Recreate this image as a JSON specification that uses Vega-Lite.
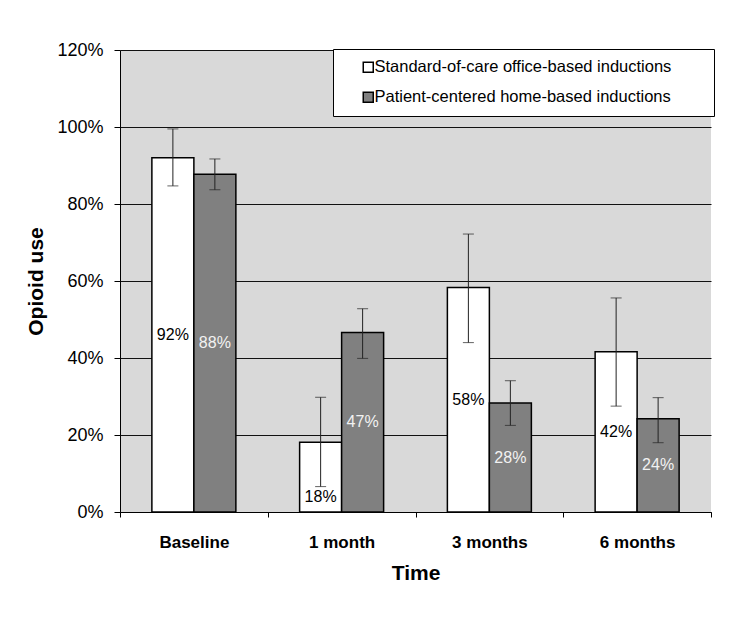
{
  "$schema": "https://vega.github.io/schema/vega-lite/v6.json",
  "width": 591,
  "height": 462,
  "autosize": {"type": "none"},
  "padding": {"left": 120, "top": 50, "right": 33, "bottom": 122},
  "background": "white",
  "config": {
    "view": {"stroke": null, "fill": "#d9d9d9"},
    "font": "Liberation Sans"
  },
  "data": {
    "values": [
      {"time": "Baseline", "group": "Standard-of-care office-based inductions", "value": 0.92, "lo": 0.847, "hi": 0.995},
      {"time": "Baseline", "group": "Patient-centered home-based inductions", "value": 0.877, "lo": 0.837, "hi": 0.917},
      {"time": "1 month", "group": "Standard-of-care office-based inductions", "value": 0.181, "lo": 0.066, "hi": 0.298},
      {"time": "1 month", "group": "Patient-centered home-based inductions", "value": 0.466, "lo": 0.399, "hi": 0.528},
      {"time": "3 months", "group": "Standard-of-care office-based inductions", "value": 0.583, "lo": 0.44, "hi": 0.722},
      {"time": "3 months", "group": "Patient-centered home-based inductions", "value": 0.283, "lo": 0.225, "hi": 0.341},
      {"time": "6 months", "group": "Standard-of-care office-based inductions", "value": 0.416, "lo": 0.275, "hi": 0.556},
      {"time": "6 months", "group": "Patient-centered home-based inductions", "value": 0.242, "lo": 0.18, "hi": 0.297}
    ]
  },
  "encoding": {
    "x": {
      "field": "time",
      "type": "nominal",
      "sort": ["Baseline", "1 month", "3 months", "6 months"],
      "scale": {"paddingInner": 0, "paddingOuter": 0},
      "title": "Time",
      "axis": {
        "labelAngle": 0,
        "labelFontSize": 17,
        "labelFontWeight": "bold",
        "labelColor": "black",
        "labelPadding": 17,
        "tickBand": "extent",
        "tickSize": 5,
        "tickColor": "black",
        "domainColor": "black",
        "titleFontSize": 21,
        "titleFontWeight": "bold",
        "titleColor": "black",
        "titlePadding": 12
      }
    },
    "xOffset": {
      "field": "group",
      "type": "nominal",
      "sort": ["Standard-of-care office-based inductions", "Patient-centered home-based inductions"],
      "scale": {"paddingInner": 0, "paddingOuter": 0.759}
    }
  },
  "layer": [
    {
      "mark": {"type": "bar", "stroke": "black", "strokeWidth": 1.5},
      "encoding": {
        "y": {
          "field": "value",
          "type": "quantitative",
          "scale": {"domain": [0, 1.2]},
          "title": "Opioid use",
          "axis": {
            "format": ".0%",
            "values": [0, 0.2, 0.4, 0.6, 0.8, 1.0, 1.2],
            "labelFontSize": 18,
            "labelColor": "black",
            "labelPadding": 11,
            "tickSize": 6,
            "tickColor": "black",
            "domainColor": "black",
            "gridColor": "#111111",
            "gridWidth": 1,
            "titleFontSize": 21,
            "titleFontWeight": "bold",
            "titleColor": "black",
            "titlePadding": 10
          }
        },
        "fill": {
          "field": "group",
          "type": "nominal",
          "scale": {
            "domain": ["Standard-of-care office-based inductions", "Patient-centered home-based inductions"],
            "range": ["#ffffff", "#808080"]
          },
          "legend": {
            "orient": "none",
            "legendX": 213,
            "legendY": -1,
            "direction": "vertical",
            "title": null,
            "padding": 10,
            "symbolOffset": 17,
            "symbolType": "square",
            "symbolSize": 100,
            "symbolStrokeColor": "black",
            "symbolStrokeWidth": 1.5,
            "labelFontSize": 16.5,
            "labelOffset": -2,
            "labelLimit": 600,
            "labelColor": "black",
            "rowPadding": 13,
            "strokeColor": "black",
            "fillColor": "white",
            "labelExpr": "datum.label + '\u00a0\u00a0\u00a0\u00a0\u00a0\u00a0\u00a0\u200b'"
          }
        }
      }
    },
    {
      "mark": {"type": "rule", "color": "#222222", "strokeWidth": 1},
      "encoding": {
        "y": {"field": "lo", "type": "quantitative"},
        "y2": {"field": "hi"}
      }
    },
    {
      "mark": {"type": "tick", "color": "#222222", "thickness": 1, "size": 11},
      "encoding": {"y": {"field": "lo", "type": "quantitative"}}
    },
    {
      "mark": {"type": "tick", "color": "#222222", "thickness": 1, "size": 11},
      "encoding": {"y": {"field": "hi", "type": "quantitative"}}
    },
    {
      "transform": [
        {"filter": "datum.group == 'Standard-of-care office-based inductions'"},
        {"calculate": "datum.value < 0.2 ? 0.039 : datum.value / 2", "as": "labelY"}
      ],
      "mark": {"type": "text", "fontSize": 16, "color": "black", "baseline": "middle"},
      "encoding": {
        "y": {"field": "labelY", "type": "quantitative"},
        "text": {"field": "value", "type": "quantitative", "format": ".0%"}
      }
    },
    {
      "transform": [
        {"filter": "datum.group == 'Patient-centered home-based inductions'"},
        {"calculate": "datum.value / 2", "as": "labelY"}
      ],
      "mark": {"type": "text", "fontSize": 16, "color": "#f2f2f2", "baseline": "middle"},
      "encoding": {
        "y": {"field": "labelY", "type": "quantitative"},
        "text": {"field": "value", "type": "quantitative", "format": ".0%"}
      }
    }
  ]
}
